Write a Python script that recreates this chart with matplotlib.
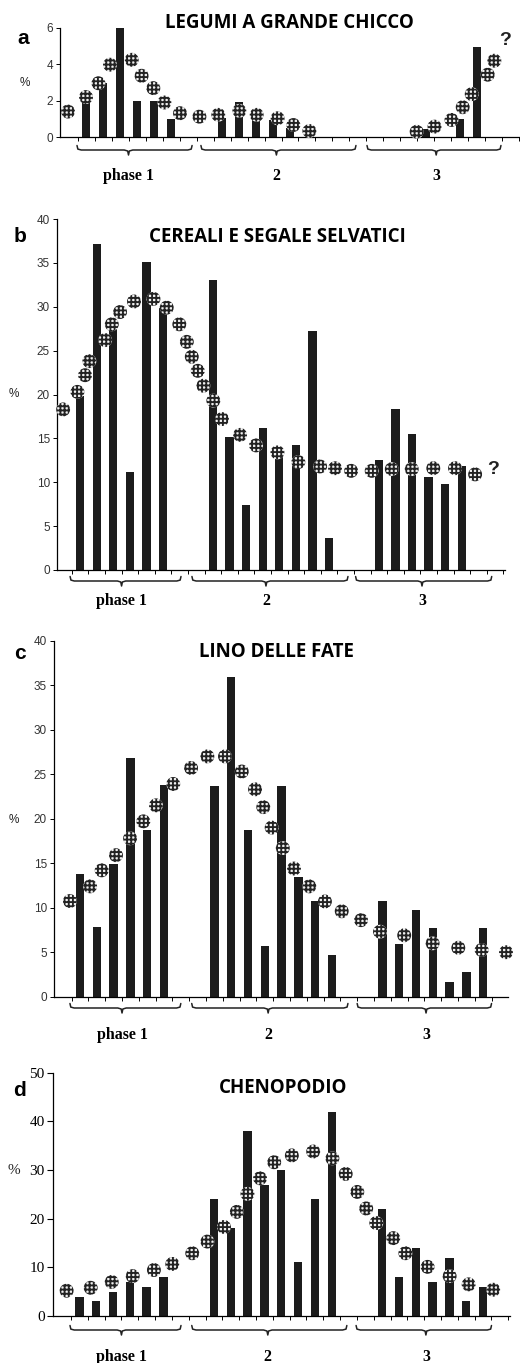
import numpy as np
import matplotlib
matplotlib.use("Agg")
import matplotlib.pyplot as plt
from matplotlib.transforms import blended_transform_factory

plt.rcParams["hatch.linewidth"] = 1.35

W, H = 520, 1363

# ---- data (x = sample slot, y = %) ----
a_bar_x = [1, 2, 3, 4, 5, 6, 9, 10, 11, 12, 13, 21, 23, 24]
a_bar_y = [2.0, 3.0, 6.0, 2.0, 2.0, 1.0, 1.05, 1.9, 1.1, 0.95, 0.5, 0.45, 1.0, 4.95]
a_dot_x = [-0.06, 1.0, 1.73, 2.41, 3.69, 4.27, 4.96, 5.61, 6.53, 7.67, 8.78, 10.02,
           11.04, 12.27, 13.2, 14.14, 20.45, 21.5, 22.5, 23.16, 23.69, 24.63, 25.02]
a_dot_y = [1.4, 2.2, 2.96, 3.98, 4.25, 3.37, 2.69, 1.9, 1.31, 1.12, 1.22, 1.44,
           1.22, 1.03, 0.66, 0.33, 0.29, 0.57, 0.94, 1.64, 2.36, 3.43, 4.2]

b_bar_x = [1, 2, 3, 4, 5, 6, 9, 10, 11, 12, 13, 14, 15, 16, 19, 20, 21, 22, 23, 24]
b_bar_y = [19.8, 37.1, 28.1, 11.2, 35.1, 29.9, 33.1, 15.2, 7.4, 16.2, 13.1, 14.3,
           27.2, 3.6, 12.5, 18.3, 15.5, 10.6, 9.8, 11.8]
b_dot_x = [-0.02, 0.84, 1.30, 1.56, 2.51, 2.91, 3.41, 4.25, 5.42, 6.22, 6.98, 7.43,
           7.73, 8.09, 8.43, 9.03, 9.55, 10.64, 11.6, 12.89, 14.15, 15.46, 16.36,
           17.33, 18.57, 19.78, 20.98, 22.28, 23.59, 24.8]
b_dot_y = [18.3, 20.3, 22.2, 23.8, 26.2, 28.0, 29.4, 30.6, 30.9, 29.9, 28.0, 26.0,
           24.3, 22.7, 21.0, 19.3, 17.2, 15.4, 14.2, 13.4, 12.3, 11.8, 11.6,
           11.3, 11.3, 11.5, 11.5, 11.6, 11.6, 10.9]

c_bar_x = [1, 2, 3, 4, 5, 6, 9, 10, 11, 12, 13, 14, 15, 16, 19, 20, 21, 22, 23, 24, 25]
c_bar_y = [13.8, 7.8, 14.9, 26.8, 18.7, 23.8, 23.7, 35.9, 18.7, 5.7, 23.7, 13.5,
           10.8, 4.7, 10.7, 5.9, 9.7, 7.7, 1.7, 2.8, 7.7]
c_dot_x = [0.40, 1.60, 2.29, 3.14, 3.98, 4.77, 5.52, 6.55, 7.61, 8.58, 9.63, 10.63,
           11.42, 11.91, 12.41, 13.07, 13.74, 14.65, 15.58, 16.58, 17.73, 18.86,
           20.3, 21.99, 23.52, 24.91, 26.36]
c_dot_y = [10.75, 12.4, 14.2, 15.9, 17.8, 19.7, 21.5, 23.9, 25.7, 27.0, 27.0, 25.3,
           23.3, 21.3, 19.0, 16.7, 14.4, 12.4, 10.7, 9.6, 8.6, 7.3,
           6.9, 6.0, 5.5, 5.25, 5.0]

d_bar_x = [1, 2, 3, 4, 5, 6, 9, 10, 11, 12, 13, 14, 15, 16, 19, 20, 21, 22, 23, 24, 25]
d_bar_y = [4, 3, 5, 7, 6, 8, 24, 18, 38, 27, 30, 11, 24, 42, 22, 8, 14, 7, 12, 3, 6]
d_dot_x = [0.24, 1.67, 2.92, 4.17, 5.43, 6.52, 7.71, 8.61, 9.60, 10.36, 10.99, 11.74,
           12.58, 13.63, 14.9, 16.04, 16.83, 17.52, 18.05, 18.65, 19.66, 20.38,
           21.7, 23.01, 24.14, 25.6]
d_dot_y = [5.2, 5.8, 7.0, 8.2, 9.45, 10.7, 12.9, 15.3, 18.3, 21.4, 25.1, 28.3,
           31.6, 33.0, 33.8, 32.4, 29.2, 25.5, 22.1, 19.1, 16.0, 12.9,
           10.1, 8.2, 6.5, 5.4]

titles = ["LEGUMI A GRANDE CHICCO", "CEREALI E SEGALE SELVATICI",
          "LINO DELLE FATE", "CHENOPODIO"]
letters = ["a", "b", "c", "d"]
phase_labels = ["phase 1", "2", "3"]

fig = plt.figure(figsize=(W / 100, H / 100), dpi=100)


def fx(px):
    return px / W


def fy(py):
    return 1 - py / H


def make_axes(left, right, top, bottom, xlim, ylim, yticks, serif=False):
    ax = fig.add_axes([fx(left), fy(bottom), (right - left) / W, (bottom - top) / H])
    ax.set_xlim(*xlim)
    ax.set_ylim(*ylim)
    for s in ["top", "right"]:
        ax.spines[s].set_visible(False)
    for s in ["left", "bottom"]:
        ax.spines[s].set_linewidth(0.9)
    ax.set_yticks(yticks)
    ax.set_xticks(np.arange(0.5, xlim[1], 1.0))
    ax.set_xticklabels([])
    ax.tick_params(axis="x", direction="out", length=3, width=0.7)
    if serif:
        ax.tick_params(axis="y", direction="out", length=4, width=0.8,
                       labelsize=11, pad=2)
        for t in ax.get_yticklabels():
            t.set_family("Liberation Serif")
    else:
        ax.tick_params(axis="y", direction="out", length=3, width=0.7,
                       labelsize=8.5, pad=2, labelcolor="#333333")
        for t in ax.get_yticklabels():
            t.set_family("Liberation Sans")
    ax.patch.set_alpha(0)
    return ax


def draw(ax, bx, by, dx, dy):
    ax.bar(bx, by, width=0.5, color="#1c1c1c", zorder=2)
    ax.scatter(dx, dy, s=100, facecolor="#f0f0f0", edgecolor="#222222",
               linewidths=0, hatch="++++", zorder=3, clip_on=False)


def braces(ax, ybr, ylab, spans, mids):
    tr = blended_transform_factory(ax.transData, fig.transFigure)
    h1 = 4.5 / H
    h2 = 5.0 / H
    y0 = fy(ybr)
    for (x0, x1), xm, lab in zip(spans, mids, phase_labels):
        xs = [x0, x0 + 0.05, x0 + 0.25, xm - 0.25, xm - 0.05, xm,
              xm + 0.05, xm + 0.25, x1 - 0.25, x1 - 0.05, x1]
        ys = [y0 + h1, y0 + h1 * 0.2, y0, y0, y0 - h2 * 0.2, y0 - h2,
              y0 - h2 * 0.2, y0, y0, y0 + h1 * 0.2, y0 + h1]
        ax.plot(xs, ys, transform=tr, color="#222222", lw=1.1, clip_on=False,
                solid_capstyle="round", solid_joinstyle="round")
        ax.text(xm, fy(ylab), lab, transform=tr, ha="center", va="center",
                family="Liberation Serif", fontweight="bold", fontsize=11.5)


mids = [3.5, 12.2, 21.6]

# panel a
ax = make_axes(60, 520, 28, 137, (-0.53, 26.53), (0, 6), [0, 2, 4, 6])
draw(ax, a_bar_x, a_bar_y, a_dot_x, a_dot_y)
ax.text(25.65, 5.3, "?", ha="center", va="center", fontsize=14,
        fontweight="bold", family="Liberation Sans", color="#222222")
braces(ax, 150, 176, [(0.47, 7.24), (7.76, 16.88), (17.53, 25.41)], mids)

# panel b
ax = make_axes(57, 505, 219, 570, (-0.39, 26.6), (0, 40), range(0, 41, 5))
draw(ax, b_bar_x, b_bar_y, b_dot_x, b_dot_y)
ax.text(25.9, 11.4, "?", ha="center", va="center", fontsize=14,
        fontweight="bold", family="Liberation Sans", color="#222222")
braces(ax, 581, 601, [(0.4, 7.08), (7.74, 17.14), (17.6, 25.8)], mids)

# panel c
ax = make_axes(54, 508, 640.7, 996.7, (-0.55, 26.48), (0, 40), range(0, 41, 5))
draw(ax, c_bar_x, c_bar_y, c_dot_x, c_dot_y)
braces(ax, 1008, 1035, [(0.4, 7.0), (7.65, 16.95), (17.5, 25.5)], mids)

# panel d
ax = make_axes(53, 510, 1072.7, 1316, (-0.57, 26.6), (0, 50), range(0, 51, 10),
               serif=True)
draw(ax, d_bar_x, d_bar_y, d_dot_x, d_dot_y)
braces(ax, 1330, 1357, [(0.44, 7.04), (7.68, 16.9), (17.45, 25.5)], mids)

# titles, panel letters, % labels
title_pos = [(289, 23), (277, 237), (276, 652), (283, 1088)]
letter_pos = [(23, 38), (20, 237), (20, 653), (19, 1090)]
pct_pos = [(25, 83), (14, 394), (14, 820), (14, 1171)]
for i in range(4):
    fig.text(fx(title_pos[i][0]), fy(title_pos[i][1]), titles[i], ha="center",
             va="center", family="Open Sans", fontweight="bold", fontsize=13.5)
    fig.text(fx(letter_pos[i][0]), fy(letter_pos[i][1]), letters[i], ha="center",
             va="center", family="Liberation Sans", fontweight="bold", fontsize=15)
    fig.text(fx(pct_pos[i][0]), fy(pct_pos[i][1]), "%", ha="center", va="center",
             family="Liberation Serif" if i == 3 else "Liberation Sans",
             fontsize=11 if i == 3 else 8.5, color="#222222")

fig.savefig("out.png", dpi=100)
